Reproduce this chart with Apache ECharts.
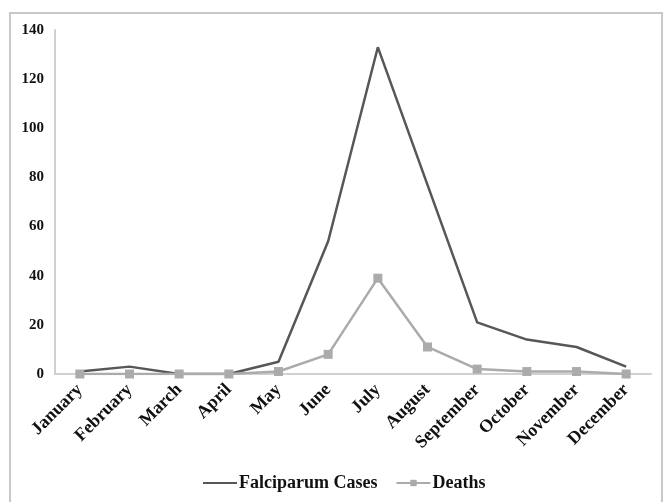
<!DOCTYPE html>
<html>
<head>
<meta charset="utf-8">
<script src="https://cdn.jsdelivr.net/npm/echarts@6/dist/echarts.min.js"></script>
<style>
  html, body { margin: 0; padding: 0; background: #fff; }
  #chart { width: 663px; height: 502px; }
</style>
</head>
<body>
<div id="chart"></div>
<script>
var months = ['January', 'February', 'March', 'April', 'May', 'June', 'July',
    'August', 'September', 'October', 'November', 'December'];
var falciparumCases = [1, 3, 0, 0, 5, 54, 133, 77, 21, 14, 11, 3];
var deaths = [0, 0, 0, 0, 1, 8, 39, 11, 2, 1, 1, 0];
var yTicks = [0, 20, 40, 60, 80, 100, 120, 140];

var chart = echarts.init(document.getElementById('chart'));

var labelFont = {
    fontFamily: 'Liberation Serif',
    fontWeight: 'bold',
    color: '#111'
};

var option = {
    animation: false,
    backgroundColor: '#fff',
    // outer frame of the figure
    graphic: [{
        type: 'rect',
        shape: { x: 10, y: 13, width: 652, height: 520 },
        style: { fill: 'none', stroke: '#c8c8c8', lineWidth: 2 },
        silent: true
    }],
    grid: {
        left: 55,
        right: 12,
        top: 30,
        bottom: 128
    },
    legend: {
        bottom: 5,
        left: 198,
        itemWidth: 34,
        itemHeight: 8,
        itemGap: 18,
        textStyle: {
            fontFamily: 'Liberation Serif',
            fontWeight: 'bold',
            fontSize: 18,
            color: '#111',
            padding: [0, 0, 0, -3]
        },
        data: [
            { name: 'Falciparum Cases', icon: 'path://M0,4L34,4L34,6L0,6Z' },
            { name: 'Deaths' }
        ]
    },
    xAxis: {
        type: 'category',
        data: months,
        boundaryGap: true,
        axisLine: { lineStyle: { color: '#d0d0d0', width: 2 } },
        axisTick: { show: false },
        axisLabel: Object.assign({ rotate: 45, interval: 0, margin: 13, fontSize: 18 }, labelFont)
    },
    yAxis: {
        type: 'value',
        min: 0,
        max: 140,
        interval: 20,
        axisLine: { show: true, lineStyle: { color: '#d0d0d0', width: 2 } },
        axisTick: { show: false },
        splitLine: { show: false },
        axisLabel: Object.assign({
            margin: 11,
            fontSize: 15,
            formatter: function (v) { return yTicks.indexOf(v) >= 0 ? v : ''; }
        }, labelFont)
    },
    series: [
        {
            name: 'Falciparum Cases',
            type: 'line',
            data: falciparumCases,
            symbol: 'none',
            color: '#575757',
            lineStyle: { color: '#575757', width: 2.5 }
        },
        {
            name: 'Deaths',
            type: 'line',
            data: deaths,
            symbol: 'rect',
            symbolSize: 9,
            color: '#ababab',
            itemStyle: { color: '#ababab' },
            lineStyle: { color: '#ababab', width: 2.5 }
        }
    ]
};

chart.setOption(option);
</script>
</body>
</html>
